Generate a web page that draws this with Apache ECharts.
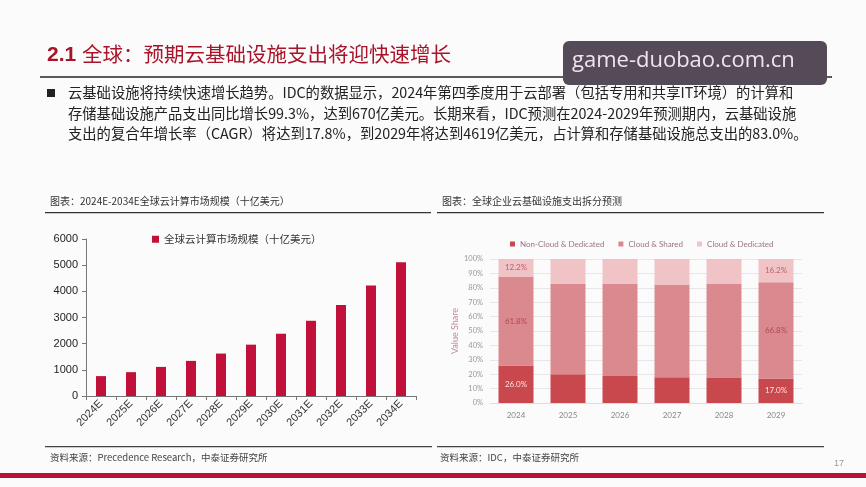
<!DOCTYPE html>
<html>
<head>
<meta charset="utf-8">
<script src="https://cdn.jsdelivr.net/npm/echarts@6/dist/echarts.min.js"></script>
<style>
  html, body { margin: 0; padding: 0; background: #fcfbfc; }
  #main { width: 866px; height: 487px; }
</style>
</head>
<body>
<div id="main"></div>
<script>
// left chart: global cloud computing market size (billion USD)
const marketYears = ['2024E', '2025E', '2026E', '2027E', '2028E', '2029E', '2030E', '2031E', '2032E', '2033E', '2034E'];
const marketSize = [760, 911, 1112, 1342, 1622, 1962, 2380, 2875, 3480, 4220, 5110];

// right chart: enterprise cloud infrastructure spend split (%)
const splitYears = ['2024', '2025', '2026', '2027', '2028', '2029'];
const nonCloudDedicated = [26.0, 20.0, 18.8, 17.9, 17.4, 17.0];
const cloudShared = [61.8, 62.6, 63.8, 64.4, 65.6, 66.8];
const cloudDedicated = [12.2, 17.4, 17.4, 17.7, 17.0, 16.2];

const CJK = '"Noto Sans CJK SC", "Noto Sans", sans-serif';
const ARIAL = 'Liberation Sans, Arial, sans-serif';
const LIGHT = 'Lato, sans-serif';

const chart = echarts.init(document.getElementById('main'));

// show value labels only on the first and last bars
function edgeLabels(values, color) {
  return values.map((v, i) => ({
    value: v,
    label: { show: i === 0 || i === values.length - 1, color: color }
  }));
}

const bodyLines = [
  '云基础设施将持续快速增长趋势。IDC的数据显示，2024年第四季度用于云部署（包括专用和共享IT环境）的计算和',
  '存储基础设施产品支出同比增长99.3%，达到670亿美元。长期来看，IDC预测在2024-2029年预测期内，云基础设施',
  '支出的复合年增长率（CAGR）将达到17.8%，到2029年将达到4619亿美元，占计算和存储基础设施总支出的83.0%。'
];

const graphics = [
  // title
  { type: 'text', left: 47, top: 45, style: { text: '2.1', fill: '#a8142a', font: 'bold 21px ' + ARIAL } },
  { type: 'text', left: 82, top: 44, style: { text: '全球：预期云基础设施支出将迎快速增长', fill: '#a8142a', font: '20.5px ' + CJK } },
  { type: 'rect', shape: { x: 40, y: 76, width: 792, height: 2 }, style: { fill: '#5a5a5a' } },
  // bullet paragraph
  { type: 'rect', shape: { x: 47, y: 89, width: 8, height: 8 }, style: { fill: '#222' } },
  { type: 'text', left: 68, top: 85, style: { text: bodyLines[0], fill: '#222', font: '14.3px ' + CJK } },
  { type: 'text', left: 68, top: 106, style: { text: bodyLines[1], fill: '#222', font: '14.3px ' + CJK } },
  { type: 'text', left: 68, top: 126, style: { text: bodyLines[2], fill: '#222', font: '14.3px ' + CJK } },
  // watermark
  { type: 'rect', shape: { x: 563, y: 41, width: 264, height: 44, r: 6 }, style: { fill: '#544a58' }, z: 10 },
  { type: 'text', left: 572, top: 50, z: 11, style: { text: 'game-duobao.com.cn', fill: '#f3e3ef', font: '22px "Open Sans", sans-serif' } },
  // chart captions
  { type: 'text', left: 50, top: 196, style: { text: '图表：2024E-2034E全球云计算市场规模（十亿美元）', fill: '#333', font: '10px ' + CJK } },
  { type: 'rect', shape: { x: 45, y: 212, width: 386, height: 1.2 }, style: { fill: '#333' } },
  { type: 'text', left: 442, top: 196, style: { text: '图表：全球企业云基础设施支出拆分预测', fill: '#333', font: '10px ' + CJK } },
  { type: 'rect', shape: { x: 437, y: 212, width: 387, height: 1.2 }, style: { fill: '#333' } },
  // sources
  { type: 'rect', shape: { x: 45, y: 446, width: 387, height: 1.2 }, style: { fill: '#444' } },
  { type: 'rect', shape: { x: 437, y: 446, width: 387, height: 1.2 }, style: { fill: '#444' } },
  { type: 'text', left: 50, top: 453, style: { text: '资料来源：Precedence Research，中泰证券研究所', fill: '#444', font: '9.5px ' + CJK } },
  { type: 'text', left: 440, top: 453, style: { text: '资料来源：IDC，中泰证券研究所', fill: '#444', font: '9.5px ' + CJK } },
  { type: 'text', left: 834, top: 459, style: { text: '17', fill: '#999', font: '9px ' + ARIAL } },
  // footer band
  { type: 'rect', shape: { x: 0, y: 473, width: 866, height: 5 }, style: { fill: '#b8113a' } }
];

const option = {
  backgroundColor: '#fcfbfc',
  animation: false,
  graphic: graphics,
  legend: [
    {
      left: 147, top: 229,
      data: ['全球云计算市场规模（十亿美元）'],
      icon: 'rect', itemWidth: 7, itemHeight: 7, itemGap: 4,
      textStyle: { fontFamily: CJK, fontSize: 10.5, color: '#333' }
    },
    {
      left: 505, top: 235,
      data: ['Non-Cloud & Dedicated', 'Cloud & Shared', 'Cloud & Dedicated'],
      icon: 'rect', itemWidth: 5, itemHeight: 5, itemGap: 14,
      textStyle: { fontFamily: LIGHT, fontSize: 8, color: '#9a7480' }
    }
  ],
  grid: [
    { left: 86, right: 450, top: 239, bottom: 91 },
    { left: 490, right: 64, top: 259, bottom: 84 }
  ],
  xAxis: [
    {
      gridIndex: 0, type: 'category', data: marketYears,
      axisLine: { lineStyle: { color: '#777' } },
      axisTick: { show: true, length: 4, lineStyle: { color: '#777' } },
      axisLabel: { rotate: 45, interval: 0, fontFamily: ARIAL, fontSize: 11, color: '#333', margin: 6 }
    },
    {
      gridIndex: 1, type: 'category', data: splitYears,
      axisLine: { lineStyle: { color: '#ddd' } },
      axisTick: { show: false },
      axisLabel: { fontFamily: LIGHT, fontSize: 8, color: '#888', margin: 8 }
    }
  ],
  yAxis: [
    {
      gridIndex: 0, type: 'value', min: 0, max: 6000, interval: 1000,
      axisLine: { show: true, lineStyle: { color: '#777' } },
      axisTick: { show: true, length: 4, lineStyle: { color: '#777' } },
      splitLine: { show: false },
      axisLabel: { formatter: v => String(v), fontFamily: ARIAL, fontSize: 11, color: '#222', margin: 8 }
    },
    {
      gridIndex: 1, type: 'value', min: 0, max: 100, interval: 10,
      name: 'Value Share', nameLocation: 'middle', nameGap: 22,
      nameTextStyle: { fontFamily: LIGHT, fontSize: 9, color: '#c48a98' },
      axisLine: { show: false },
      axisTick: { show: false },
      splitLine: { lineStyle: { color: '#e8e6e8' } },
      axisLabel: { formatter: '{value}%', fontFamily: LIGHT, fontSize: 7.5, color: '#999', margin: 7 }
    }
  ],
  series: [
    {
      name: '全球云计算市场规模（十亿美元）', type: 'bar',
      xAxisIndex: 0, yAxisIndex: 0,
      data: marketSize, barWidth: 10,
      itemStyle: { color: '#c1103a' }
    },
    {
      name: 'Non-Cloud & Dedicated', type: 'bar', stack: 'share',
      xAxisIndex: 1, yAxisIndex: 1, barWidth: 35,
      data: edgeLabels(nonCloudDedicated, '#f8e4e4'),
      itemStyle: { color: '#c9484e' },
      label: { position: 'inside', fontFamily: LIGHT, fontSize: 8, formatter: p => p.value.toFixed(1) + '%' }
    },
    {
      name: 'Cloud & Shared', type: 'bar', stack: 'share',
      xAxisIndex: 1, yAxisIndex: 1, barWidth: 35,
      data: edgeLabels(cloudShared, '#b4464e'),
      itemStyle: { color: '#da8a8f' },
      label: { position: 'inside', fontFamily: LIGHT, fontSize: 8, formatter: p => p.value.toFixed(1) + '%' }
    },
    {
      name: 'Cloud & Dedicated', type: 'bar', stack: 'share',
      xAxisIndex: 1, yAxisIndex: 1, barWidth: 35,
      data: edgeLabels(cloudDedicated, '#c0606c'),
      itemStyle: { color: '#f0c4c6' },
      label: { position: 'inside', fontFamily: LIGHT, fontSize: 8, formatter: p => p.value.toFixed(1) + '%' }
    }
  ]
};

chart.setOption(option);
</script>
</body>
</html>
